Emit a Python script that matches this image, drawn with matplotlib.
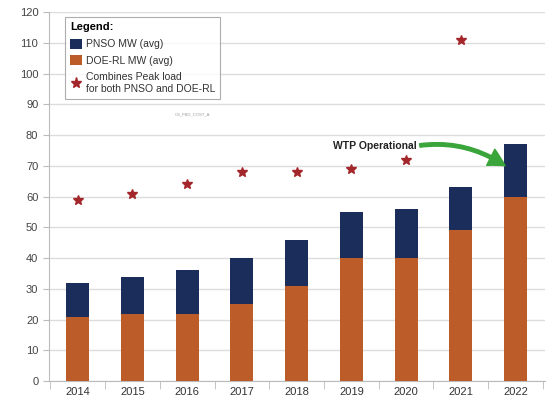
import matplotlib.pyplot as plt
import numpy as np
from matplotlib.patches import FancyArrowPatch, Patch
from matplotlib.lines import Line2D

plt.rcParams['font.family'] = ['Liberation Sans', 'DejaVu Sans']

years = ['2014', '2015', '2016', '2017', '2018', '2019', '2020', '2021', '2022']
doe_rl = [21, 22, 22, 25, 31, 40, 40, 49, 60]
pnso = [11, 12, 14, 15, 15, 15, 16, 14, 17]
peak = [59, 61, 64, 68, 68, 69, 72, 111]

navy = '#1b2d5b'
orange = '#bc5c28'
star_red = '#a3262a'

fig = plt.figure(figsize=(5.54, 4.0), dpi=100)
ax = fig.add_axes([0.088, 0.047, 0.895, 0.923])

x = np.arange(len(years))
ax.bar(x, doe_rl, width=0.42, color=orange, zorder=3)
ax.bar(x, pnso, width=0.42, bottom=doe_rl, color=navy, zorder=3)
ax.plot(x[:len(peak)], peak, linestyle='none', marker='*', markersize=7,
        color=star_red, zorder=4)

ax.set_xlim(-0.53, len(years) - 0.47)
ax.set_ylim(0, 120)
ax.set_yticks(np.arange(0, 121, 10))
ax.set_xticks(x)
ax.set_xticklabels(years)
ax.set_xticks(np.arange(-0.5, len(years), 1), minor=True)
ax.tick_params(axis='x', which='major', length=0, labelsize=8, colors='#333333', pad=4)
ax.tick_params(axis='x', which='minor', length=6, color='#bbbbbb', direction='out')
ax.tick_params(axis='y', labelsize=8, colors='#444444', length=4, color='#bbbbbb')
ax.grid(axis='y', color='#dddddd', linewidth=1, zorder=0)
for s in ['top', 'right']:
    ax.spines[s].set_visible(False)
ax.spines['left'].set_color('#bbbbbb')
ax.spines['bottom'].set_color('#bbbbbb')

handles = [Patch(facecolor=navy), Patch(facecolor=orange),
           Line2D([], [], linestyle='none', marker='*', color=star_red, markersize=8)]
labels = ['PNSO MW (avg)', 'DOE-RL MW (avg)', 'Combines Peak load\nfor both PNSO and DOE-RL']
leg = ax.legend(handles, labels, title='Legend:', loc='upper left',
                bbox_to_anchor=(0.022, 1.0), fontsize=7.5, title_fontsize=8,
                frameon=True, fancybox=False, edgecolor='#999999',
                handlelength=1.1, handleheight=1.1, handletextpad=0.4,
                labelspacing=0.6, borderpad=0.5)
leg._legend_box.align = 'left'
leg.get_title().set_fontweight('bold')
leg.get_frame().set_linewidth(0.8)
for t in leg.get_texts():
    t.set_color('#333333')
ax.text(0.255, 0.72, 'CS_FBD_COST_A', transform=ax.transAxes, fontsize=3, color='#999999')

ax.text(5.42, 76.5, 'WTP Operational', fontsize=7.5, fontweight='bold', ha='center',
        va='center', color='#222222', zorder=5)
arrow = FancyArrowPatch((6.2, 76.5), (7.85, 69.5), connectionstyle='arc3,rad=-0.2',
                        arrowstyle='simple,head_width=13,head_length=12,tail_width=2.5',
                        color='#3aa53a', zorder=6)
ax.add_patch(arrow)

fig.savefig('out.png', dpi=100)
